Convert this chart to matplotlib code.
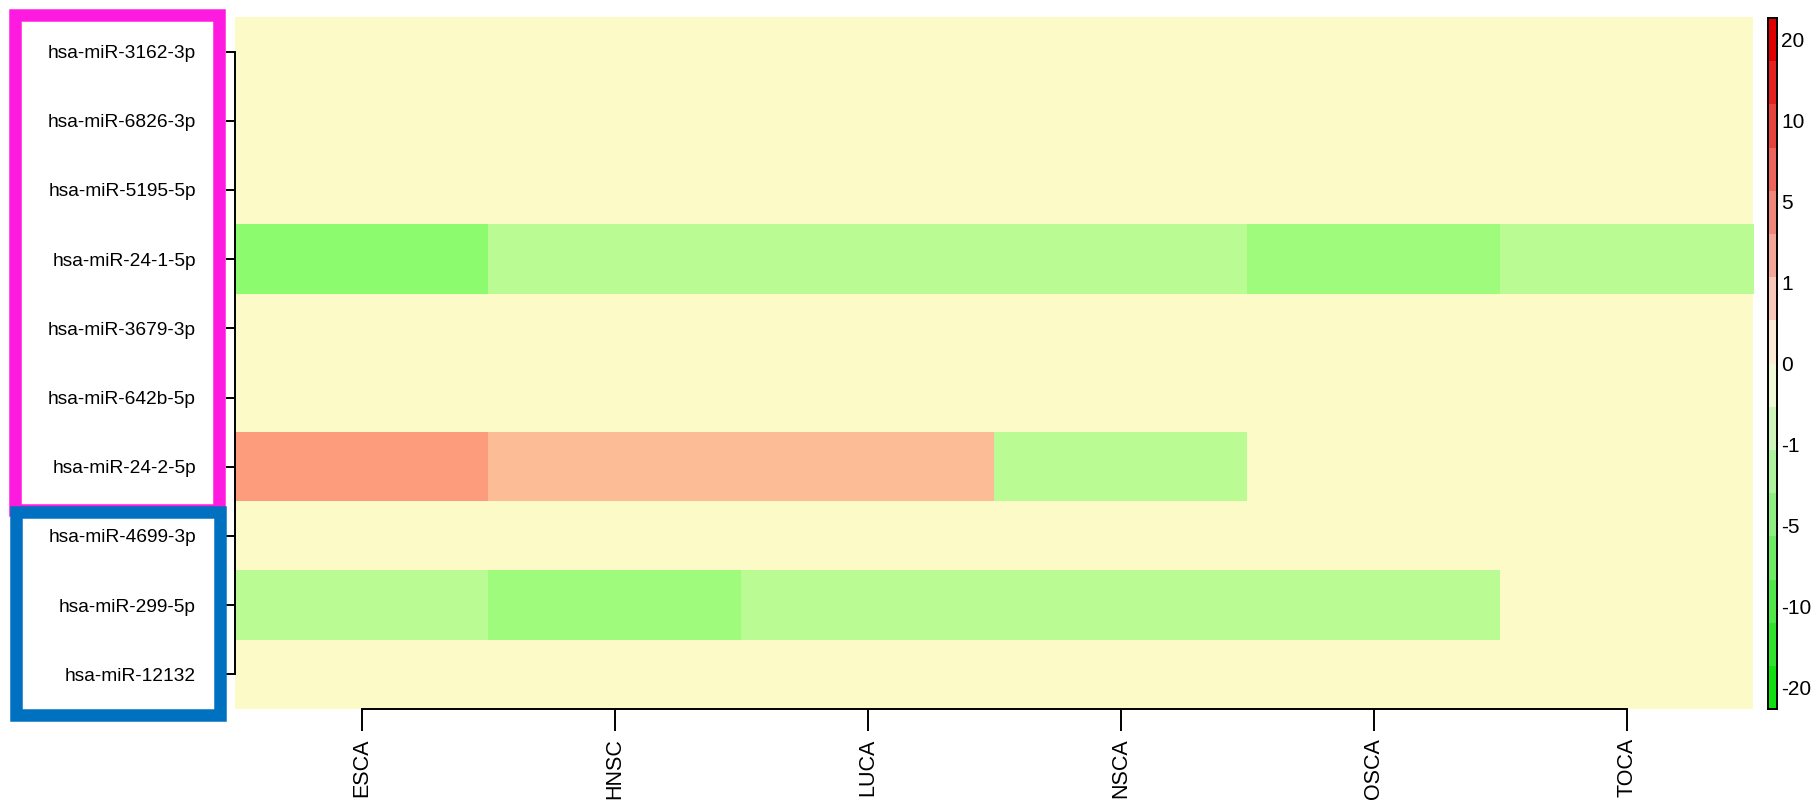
import numpy as np
import matplotlib
matplotlib.use("Agg")
import matplotlib.pyplot as plt
from matplotlib.colors import LinearSegmentedColormap
from matplotlib.patches import Rectangle

plt.rcParams['font.family'] = ['Liberation Sans', 'DejaVu Sans']

# rows top to bottom, columns = cancer types
mirnas = ['hsa-miR-3162-3p', 'hsa-miR-6826-3p', 'hsa-miR-5195-5p', 'hsa-miR-24-1-5p',
          'hsa-miR-3679-3p', 'hsa-miR-642b-5p', 'hsa-miR-24-2-5p', 'hsa-miR-4699-3p',
          'hsa-miR-299-5p', 'hsa-miR-12132']
cancers = ['ESCA', 'HNSC', 'LUCA', 'NSCA', 'OSCA', 'TOCA']
nan = np.nan
fold = np.array([
    [nan, nan, nan, nan, nan, nan],
    [nan, nan, nan, nan, nan, nan],
    [nan, nan, nan, nan, nan, nan],
    [-4.5, -1.35, -1.35, -1.35, -3.4, -1.35],
    [nan, nan, nan, nan, nan, nan],
    [nan, nan, nan, nan, nan, nan],
    [3.3, 1.2, 1.2, -1.35, nan, nan],
    [nan, nan, nan, nan, nan, nan],
    [-1.35, -3.4, -1.35, -1.35, -1.35, nan],
    [nan, nan, nan, nan, nan, nan],
])
legend_vals = [-20, -10, -5, -1, 0, 1, 5, 10, 20]

bg = '#fcfac6'
n_col = 16
key_cmap = LinearSegmentedColormap.from_list('key', ['#10e010', '#fffbe6', '#e00000'], N=n_col)
cell_cmap = LinearSegmentedColormap.from_list('cell', ['#00ff00', bg, '#ff0000'])
legend_pos = 0.5 + np.arange(len(legend_vals)) * 15 / 8
# place each value on the legend's (non-linear) scale
pos = np.where(np.isnan(fold), nan, np.interp(np.nan_to_num(fold), legend_vals, legend_pos))

W, H = 1817, 802
def frac(x0, y0, x1, y1):
    return [x0 / W, 1 - y1 / H, (x1 - x0) / W, (y1 - y0) / H]

fig = plt.figure(figsize=(W / 100, H / 100), dpi=100)
lw = 1.4

ax = fig.add_axes(frac(235, 17, 1753, 709))
ax.set_facecolor(bg)
ax.imshow(pos, cmap=cell_cmap, vmin=0, vmax=n_col, aspect='auto',
          interpolation='nearest', extent=[0, len(cancers), len(mirnas), 0])
ax.set_xlim(0, len(cancers))
ax.set_ylim(len(mirnas), 0)
ax.set_xticks(np.arange(len(cancers)) + 0.5, cancers, rotation=90, fontsize=15.5)
ax.set_yticks(np.arange(len(mirnas)) + 0.5, mirnas, fontsize=13.8)
for s in ['top', 'right']:
    ax.spines[s].set_visible(False)
ax.spines['bottom'].set_bounds(0.5, len(cancers) - 0.5)
ax.spines['left'].set_bounds(0.5, len(mirnas) - 0.5)
for s in ['bottom', 'left']:
    ax.spines[s].set_linewidth(lw)
ax.tick_params(axis='x', length=16, width=lw, pad=5)
ax.tick_params(axis='y', length=6.5, width=lw, pad=21.5)

# colour key
cax = fig.add_axes(frac(1768, 18, 1777, 709))
cax.imshow((np.arange(n_col) + 0.5).reshape(-1, 1), cmap=key_cmap, vmin=0, vmax=n_col,
           origin='lower', aspect='auto', extent=[0, 1, 0, n_col])
cax.set_xticks([])
cax.yaxis.tick_right()
cax.set_yticks(legend_pos, [str(v) for v in legend_vals], fontsize=15)
cax.tick_params(axis='y', length=0, pad=3)
for s in cax.spines.values():
    s.set_linewidth(lw)

# highlight boxes around the label groups
fig.add_artist(Rectangle((14.5 / W, 1 - 510 / H), 204.5 / W, 495.5 / H, transform=fig.transFigure,
                         fill=False, edgecolor='#ff1ae0', lw=9, joinstyle='miter'))
fig.add_artist(Rectangle((15.5 / W, 1 - 714.5 / H), 204.5 / W, 203 / H, transform=fig.transFigure,
                         fill=False, edgecolor='#0070c0', lw=9, joinstyle='miter'))

fig.savefig('out.png', dpi=100)
